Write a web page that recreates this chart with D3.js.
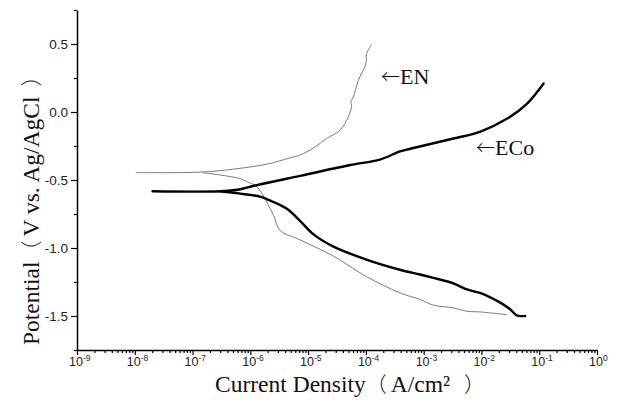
<!DOCTYPE html>
<html>
<head>
<meta charset="utf-8">
<script src="https://cdn.jsdelivr.net/npm/d3@7"></script>
<style>
  html, body { margin: 0; padding: 0; background: #fff; }
  svg { display: block; }
</style>
</head>
<body>
<svg id="chart" width="620" height="412"></svg>
<script>
// ---- data (current density in A/cm², potential in V vs. Ag/AgCl) ----
const xTickExponents = [-9, -8, -7, -6, -5, -4, -3, -2, -1, 0];
const yTickValues = [-1.5, -1.0, -0.5, 0.0, 0.5];

const enAnodicI = [1.045e-8, 7.4e-8, 2.17e-7, 6.37e-7, 1.87e-6, 5.6e-6, 7.24e-6, 1.29e-5, 2.08e-5, 3.56e-5, 4.95e-5, 5.68e-5, 5.46e-5, 6.05e-5, 7.38e-5, 1.0e-4, 1.03e-4, 1.26e-4];
const enAnodicE = [-0.446, -0.445, -0.437, -0.415, -0.385, -0.33, -0.317, -0.26, -0.195, -0.134, -0.037, 0.049, 0.073, 0.110, 0.232, 0.354, 0.428, 0.496];

const enCathodicI = [1.51e-7, 3.0e-7, 6.65e-7, 8.65e-7, 1.29e-6, 1.91e-6, 2.52e-6, 3.27e-6, 7.24e-6, 2.75e-5, 1.02e-4, 3.88e-4, 8.6e-4, 1.47e-3, 3.27e-3, 5.6e-3, 9.4e-3, 2.75e-2];
const enCathodicE = [-0.447, -0.463, -0.49, -0.512, -0.549, -0.66, -0.76, -0.87, -0.94, -1.06, -1.21, -1.33, -1.378, -1.42, -1.44, -1.465, -1.47, -1.49];

const ecoAnodicI = [2.03e-8, 3.0e-7, 6.37e-7, 1.12e-6, 7.24e-6, 5.36e-5, 1.75e-4, 3.88e-4, 5.85e-4, 3.27e-3, 9.4e-3, 2.75e-2, 6.1e-2, 0.119];
const ecoAnodicE = [-0.583, -0.583, -0.57, -0.544, -0.47, -0.39, -0.35, -0.29, -0.27, -0.195, -0.146, -0.05, 0.06, 0.21];

const ecoCathodicI = [3.0e-7, 6.65e-7, 1.47e-6, 1.91e-6, 4.23e-6, 7.24e-6, 1.24e-5, 2.75e-5, 1.02e-4, 3.88e-4, 8.6e-4, 1.47e-3, 3.27e-3, 5.6e-3, 9.4e-3, 2.08e-2, 3.13e-2, 4.08e-2, 5.71e-2];
const ecoCathodicE = [-0.583, -0.60, -0.622, -0.64, -0.71, -0.80, -0.90, -0.99, -1.085, -1.16, -1.195, -1.22, -1.26, -1.305, -1.33, -1.40, -1.45, -1.496, -1.50];

const labelArrow = "←";
const labelNames = ["EN", "ECo"];
const xTitleParts = ["Current Density", "（", "A/cm²", "）"];
const yTitleParts = ["Potential", "（", "V vs. Ag/AgCl", "）"];

// ---- layout ----
const W = 620, H = 412;
const margin = { left: 77, top: 10, right: 23, bottom: 62 };
const svg = d3.select("#chart");
const x = d3.scaleLog().domain([1e-9, 1]).range([margin.left, W - margin.right]);
const y = d3.scaleLinear().domain([-1.75, 0.75]).range([H - margin.bottom, margin.top]);

const zip = (a, b) => a.map((v, i) => [v, b[i]]);
const line = d3.line().x(d => x(d[0])).y(d => y(d[1])).curve(d3.curveCatmullRom.alpha(0.5));

const serif = "'Liberation Serif', 'Times New Roman', serif";
const sans = "'Liberation Sans', Arial, sans-serif";
const cjk = "'Noto Sans CJK SC', sans-serif";

// ---- axes ----
const xMajor = xTickExponents.map(e => Math.pow(10, e));
const xMinor = [];
xTickExponents.slice(0, -1).forEach(e => { for (let k = 2; k <= 9; k++) xMinor.push(k * Math.pow(10, e)); });

const gx = svg.append("g").attr("transform", `translate(0,${H - margin.bottom})`);
gx.call(d3.axisBottom(x).tickValues(xMinor).tickSize(3).tickFormat(""));
gx.call(g => g.selectAll(".domain").remove());
const gx2 = svg.append("g").attr("transform", `translate(0,${H - margin.bottom})`);
gx2.call(d3.axisBottom(x).tickValues(xMajor).tickSize(5).tickSizeOuter(0).tickFormat(""));
[gx, gx2].forEach(g => {
  g.selectAll("path.domain").attr("stroke", "#000").attr("stroke-width", 1.5);
  g.selectAll(".tick line").attr("stroke", "#000").attr("stroke-width", 1.2);
});
// x tick labels 10^n
const xl = svg.append("g");
xTickExponents.forEach(e => {
  const t = xl.append("text")
    .attr("x", x(Math.pow(10, e)) - 8)
    .attr("y", H - margin.bottom + 16)
    .attr("font-family", sans)
    .attr("font-size", 12.5)
    .attr("fill", "#222");
  t.append("tspan").text("10");
  t.append("tspan").attr("dy", -5).attr("font-size", 8.5).text(String(e));
});

const yMinor = d3.range(-1.75, 0.76, 0.25).filter(v => Math.abs(Math.round(v * 2) - v * 2) > 0.01);
const gy = svg.append("g").attr("transform", `translate(${margin.left},0)`);
gy.call(d3.axisLeft(y).tickValues(yMinor).tickSize(3).tickFormat(""));
gy.call(g => g.selectAll(".domain").remove());
const gy2 = svg.append("g").attr("transform", `translate(${margin.left},0)`);
gy2.call(d3.axisLeft(y).tickValues(yTickValues).tickSize(6).tickSizeOuter(0).tickPadding(3)
  .tickFormat(d => d.toFixed(1)));
[gy, gy2].forEach(g => {
  g.selectAll("path.domain").attr("stroke", "#000").attr("stroke-width", 1.5);
  g.selectAll(".tick line").attr("stroke", "#000").attr("stroke-width", 1.2);
});
gy2.selectAll(".tick text")
  .attr("font-family", sans)
  .attr("font-size", 13.5)
  .attr("fill", "#222");

// ---- curves ----
const plot = svg.append("g");
[[enAnodicI, enAnodicE], [enCathodicI, enCathodicE]].forEach(([I, E]) => {
  plot.append("path").datum(zip(I, E)).attr("d", line)
    .attr("fill", "none").attr("stroke", "#7a7a7a").attr("stroke-width", 1);
});
[[ecoAnodicI, ecoAnodicE], [ecoCathodicI, ecoCathodicE]].forEach(([I, E]) => {
  plot.append("path").datum(zip(I, E)).attr("d", line)
    .attr("fill", "none").attr("stroke", "#000").attr("stroke-width", 2.4)
    .attr("stroke-linejoin", "round").attr("stroke-linecap", "round");
});

// ---- annotations ----
function label(xp, yp, name) {
  const t = svg.append("text").attr("x", xp).attr("y", yp)
    .attr("font-family", serif).attr("font-size", 22).attr("fill", "#111");
  t.append("tspan").attr("font-family", cjk).attr("font-size", 19).attr("font-weight", 300).text(labelArrow);
  t.append("tspan").text(name);
}
label(381, 84, labelNames[0]);
label(476, 155, labelNames[1]);

// ---- titles ----
function title(sel, parts, gapA, gapB) {
  sel.attr("font-family", serif).attr("font-size", 23.5).attr("fill", "#111");
  parts.forEach((p, i) => {
    const s = sel.append("tspan").text(p);
    if (p === "（" || p === "）") s.attr("font-family", cjk).attr("font-weight", 300).attr("font-size", 21);
    if (i === 2) s.attr("dx", gapA);
    if (i === 3) s.attr("dx", gapB);
  });
}
title(svg.append("text").attr("x", 215).attr("y", 392), xTitleParts, 4, 14);
title(svg.append("text").attr("transform", `translate(39,345) rotate(-90)`), yTitleParts, 4, 10);
</script>
</body>
</html>
